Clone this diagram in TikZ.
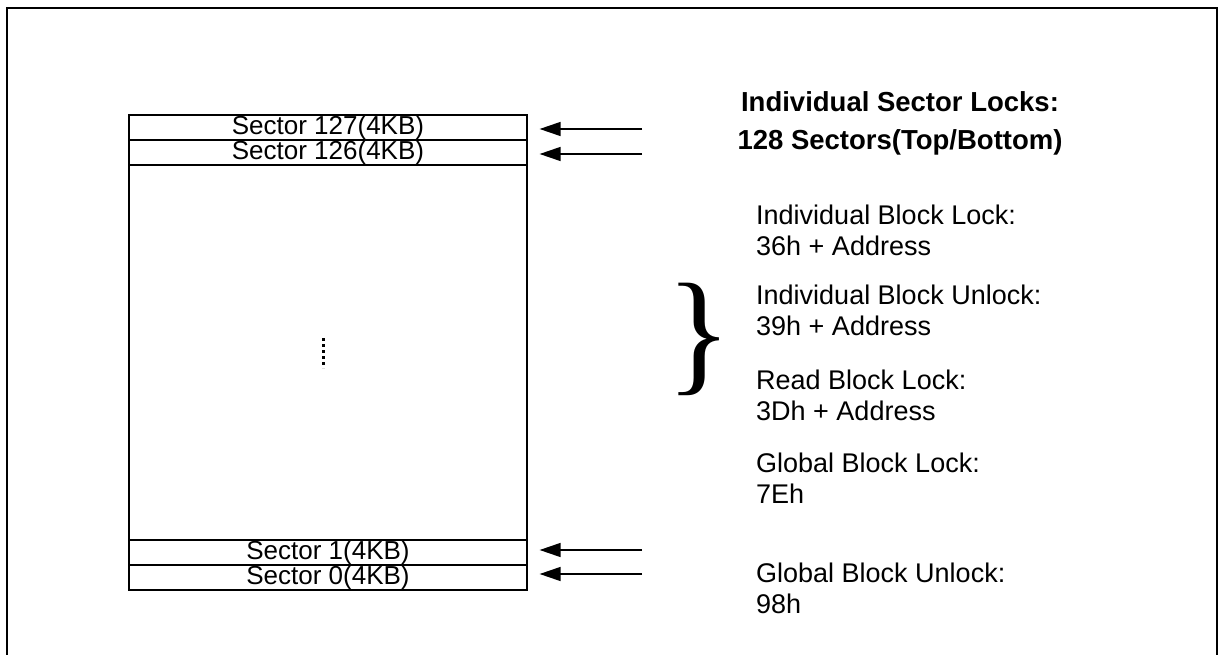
\documentclass[tikz,border=0pt]{standalone}
\usepackage{fontspec}
\setmainfont{Liberation Sans}
\newfontfamily\bracefont{Liberation Serif}
\usetikzlibrary{arrows.meta,positioning}

\tikzset{
  sector/.style={draw, line width=1.2pt, minimum width=398pt, minimum height=25pt, inner sep=0pt, font=\fontsize{26}{26}\selectfont},
  lockarrow/.style={-{Triangle[length=21pt,width=14pt]}, line width=1.3pt},
  cmd/.style={align=left, anchor=west, inner sep=0pt, font=\fontsize{27}{31}\selectfont},
}

\begin{document}
\begin{tikzpicture}[x=1pt, y=-1pt]
  \useasboundingbox (0,0) rectangle (1221,655);
  \clip (0,0) rectangle (1221,655);
  \draw[line width=2pt] (7,8) rectangle (1217,700);

  % memory array
  \node[draw, line width=1.2pt, minimum width=398pt, minimum height=475pt, inner sep=0pt] (memory) at (328,352.5) {};
  \node[sector] (s127) at (328,127.5) {Sector 127(4KB)};
  \node[sector] (s126) at (328,152.5) {Sector 126(4KB)};
  \node[sector] (s1) at (328,552.5) {Sector 1(4KB)};
  \node[sector] (s0) at (328,577.5) {Sector 0(4KB)};
  \draw[line width=3pt, dash pattern=on 3pt off 3pt] (323,338) -- (323,368);

  % lock arrows
  \coordinate (t127) at (642,129);
  \coordinate (t126) at (642,154);
  \coordinate (t1) at (642,550);
  \coordinate (t0) at (642,574);
  \draw[lockarrow, shorten >=12pt] (t127) -- (t127 -| s127.east);
  \draw[lockarrow, shorten >=12pt] (t126) -- (t126 -| s126.east);
  \draw[lockarrow, shorten >=12pt] (t1) -- (t1 -| s1.east);
  \draw[lockarrow, shorten >=12pt] (t0) -- (t0 -| s0.east);

  % commands
  \node[align=center, inner sep=0pt, font=\bfseries\fontsize{27.5}{38}\selectfont] (title) at (900,123) {Individual Sector Locks:\\128 Sectors(Top/Bottom)};
  \node[inner sep=0pt, font=\bracefont\fontsize{136}{136}\selectfont] (brace) at (699,339) {\}};
  \node[cmd] (lock) at (756,230.5) {Individual Block Lock:\\36h + Address};
  \node[cmd] (unlock) at (756,310.5) {Individual Block Unlock:\\39h + Address};
  \node[cmd] (read) at (756,395) {Read Block Lock:\\3Dh + Address};
  \node[cmd] (glock) at (756,478.5) {Global Block Lock:\\7Eh};
  \node[cmd] (gunlock) at (756,588) {Global Block Unlock:\\98h};
\end{tikzpicture}
\end{document}
